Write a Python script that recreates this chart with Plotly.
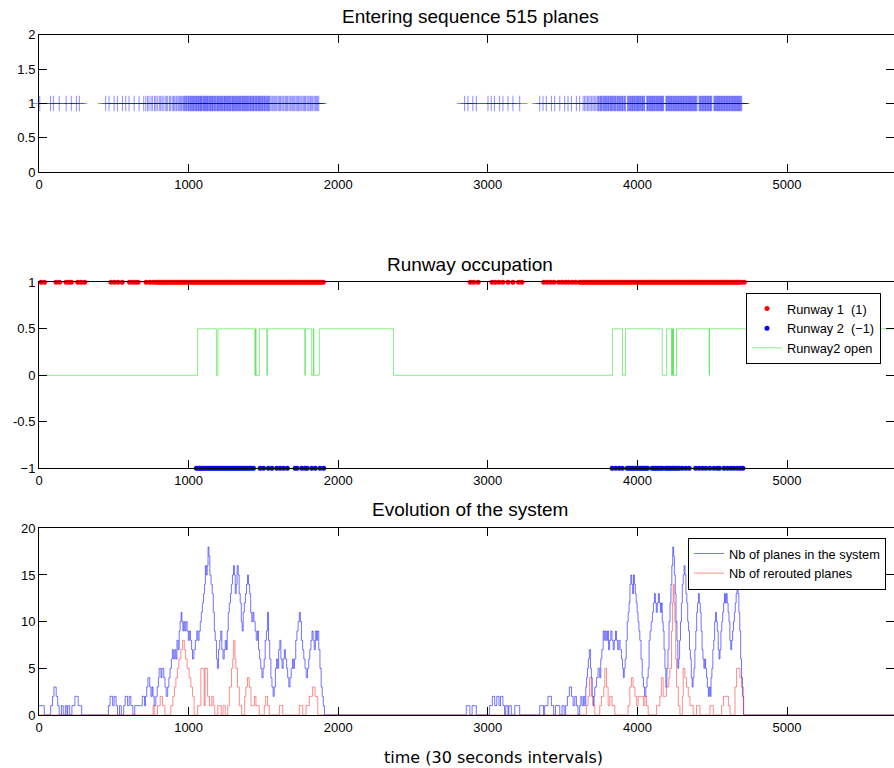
import plotly.graph_objects as go

# ---------------- data ----------------
x_ticks = [0, 1000, 2000, 3000, 4000, 5000]

# entering times of the planes (30 s intervals)
arrivals = [
    5, 77, 96, 135, 181, 216, 250, 270,
    446, 468, 502, 524, 558, 580, 602, 636, 669, 700,
    714, 726, 735, 749, 758, 772, 781, 790, 803, 811, 822, 830, 843, 851, 860, 872,
    880, 891, 899, 907, 916, 922, 931, 938, 946, 953, 961, 967,
    973, 978, 984, 988, 995, 999, 1004, 1010, 1014, 1019, 1025, 1029, 1033, 1040,
    1044, 1049, 1053, 1058, 1064, 1067, 1072, 1078, 1081, 1086, 1090, 1096, 1101,
    1105, 1109, 1114, 1118, 1123, 1127, 1131, 1137, 1141, 1146, 1150, 1155, 1160,
    1163, 1169, 1174, 1178, 1183, 1189, 1193, 1198, 1202, 1207, 1213, 1217, 1222,
    1226, 1231, 1237, 1240, 1246, 1251, 1255, 1260, 1266, 1270, 1275, 1279, 1284,
    1290, 1294, 1299, 1303, 1308, 1313, 1318, 1322, 1327, 1333, 1337, 1342, 1346,
    1351, 1357, 1361, 1366, 1371, 1375, 1380, 1386, 1390, 1395, 1399, 1405, 1410,
    1414, 1419, 1425, 1429, 1434, 1438, 1444, 1449, 1453, 1458, 1464, 1468, 1473,
    1478, 1482, 1488, 1493, 1497, 1503, 1508, 1512, 1518, 1523, 1528, 1533, 1538, 1543,
    1551, 1559, 1566, 1575, 1583, 1590, 1599, 1607, 1614, 1623, 1631, 1638, 1647,
    1655, 1662, 1671, 1679, 1686, 1695, 1703, 1710, 1719, 1727, 1734, 1743, 1751,
    1758, 1767, 1775, 1782, 1791, 1799, 1806, 1815, 1823, 1830, 1839, 1847, 1854,
    1862, 1870,
    2845, 2867, 2900, 2923, 3001, 3023, 3045, 3079, 3101, 3135, 3168, 3213,
    3347, 3369, 3391, 3425, 3447, 3481, 3514, 3536, 3559, 3592, 3614, 3637,
    3647, 3656, 3666, 3675, 3684, 3694, 3703, 3712, 3722, 3731,
    3738, 3742, 3749, 3754, 3759, 3763, 3770, 3775, 3779, 3786, 3790, 3795, 3801,
    3806, 3810, 3817, 3821, 3826, 3832, 3837, 3842, 3848, 3852, 3857, 3864, 3868,
    3873, 3880, 3884, 3889, 3895, 3900, 3904, 3911, 3915, 3921, 3934, 3939, 3944,
    3949, 3953, 3958, 3963, 3967, 3972, 3977, 3981, 3986, 3992, 3996, 4001, 4006,
    4010, 4015, 4020, 4025, 4030, 4034, 4039, 4044, 4048, 4062, 4067, 4071, 4076,
    4081, 4086, 4090, 4095, 4100, 4104, 4109, 4114, 4118, 4123, 4128, 4133, 4137,
    4142, 4147, 4152, 4156, 4161, 4166, 4170, 4175, 4190, 4195, 4199, 4204, 4209,
    4213, 4218, 4223, 4227, 4232, 4237, 4242, 4246, 4251, 4256, 4260, 4265, 4270,
    4275, 4279, 4284, 4289, 4294, 4298, 4303, 4308, 4312, 4317, 4322, 4327, 4331,
    4336, 4341, 4346, 4350, 4355, 4360, 4364, 4369, 4374, 4379, 4383, 4388, 4393,
    4398, 4412, 4417, 4421, 4426, 4431, 4436, 4440, 4445, 4450, 4455, 4459, 4464,
    4469, 4474, 4478, 4483, 4488, 4492, 4497, 4511, 4516, 4521, 4525, 4530, 4535,
    4540, 4544, 4549, 4554, 4559, 4563, 4568, 4573, 4578, 4582, 4587, 4592, 4597,
    4601, 4606, 4611, 4616, 4620, 4625, 4630, 4635, 4639, 4644, 4649, 4654, 4658,
    4663, 4668, 4673, 4677, 4682, 4687, 4692, 4697,
]

# landing times on runway 1 (plotted at +1)
runway1 = [
    14, 37, 114, 138, 181, 200, 216, 259, 280, 305, 482, 505, 528, 556,
    605, 625, 645, 662, 716, 740, 763,
    781, 793, 804, 817, 828, 840, 851, 862, 875, 886, 897, 909, 921, 932, 944, 955,
    967, 978, 990, 1001, 1013, 1024, 1036, 1047, 1058, 1070, 1082, 1093, 1105, 1116,
    1128, 1139, 1151, 1162, 1174, 1185, 1197, 1208, 1220, 1231, 1243, 1254, 1266,
    1277, 1289, 1300, 1312, 1323, 1335, 1346, 1358, 1369, 1381, 1392, 1404, 1415,
    1427, 1438, 1450, 1461, 1473, 1484, 1496, 1507, 1519, 1530, 1542, 1553, 1565,
    1576, 1588, 1599, 1611, 1622, 1634, 1645, 1657, 1668, 1680, 1691, 1703, 1714,
    1726, 1737, 1749, 1760, 1772, 1783, 1795, 1806, 1818, 1829, 1841, 1852, 1864,
    1875, 1887, 1900,
    2883, 2905, 2935, 3028, 3050, 3074, 3100, 3135, 3168, 3205, 3228,
    3374, 3397, 3420, 3442, 3474, 3497, 3520, 3541, 3565, 3587,
    3614, 3626, 3637, 3649, 3660, 3672, 3683, 3695, 3706, 3718, 3729, 3741, 3752,
    3764, 3775, 3787, 3798, 3810, 3821, 3833, 3844, 3856, 3867, 3879, 3890, 3902,
    3913, 3925, 3936, 3948, 3959, 3971, 3982, 3994, 4005, 4017, 4028, 4040, 4051,
    4063, 4074, 4086, 4097, 4109, 4120, 4132, 4143, 4155, 4166, 4178, 4189, 4201,
    4212, 4224, 4235, 4247, 4258, 4270, 4281, 4293, 4304, 4316, 4327, 4339, 4350,
    4362, 4373, 4385, 4396, 4408, 4419, 4431, 4442, 4454, 4465, 4477, 4488, 4500,
    4511, 4523, 4534, 4546, 4557, 4569, 4580, 4592, 4603, 4615, 4626, 4638, 4649,
    4661, 4672, 4684, 4695, 4714,
]

# landing times on runway 2 (plotted at -1)
runway2 = [
    1052, 1064, 1075, 1087, 1098, 1110, 1121, 1133, 1144, 1156, 1167, 1179, 1190,
    1202, 1213, 1225, 1236, 1248, 1259, 1271, 1282, 1294, 1305, 1317, 1328, 1340,
    1351, 1363, 1374, 1386, 1397, 1409, 1420, 1434,
    1478, 1501, 1533, 1557, 1589, 1612, 1635, 1660, 1712, 1725, 1756, 1778, 1792,
    1823, 1847, 1879, 1903,
    3831, 3855, 3878, 3899, 3931, 3943, 3954, 3966, 3977, 3989, 4000, 4012, 4023,
    4035, 4046, 4058, 4068, 4098, 4110, 4121, 4133, 4144, 4156, 4168, 4188, 4199,
    4211, 4222, 4234, 4245, 4257, 4268, 4280, 4300, 4323, 4346, 4389, 4412, 4435,
    4457, 4484, 4512, 4535, 4548, 4579, 4602, 4625, 4646, 4668, 4688, 4705,
]

# runway 2 open indicator: (time, level) change points
runway2_open = [
    (0, 0), (1060, 0.5), (1186, 0), (1196, 0.5), (1443, 0), (1447, 0.5), (1451, 0),
    (1473, 0.5), (1523, 0), (1526, 0.5), (1777, 0), (1780, 0.5), (1823, 0),
    (1834, 0.5), (1838, 0), (1874, 0.5), (2369, 0), (3833, 0.5), (3900, 0),
    (3920, 0.5), (4166, 0), (4195, 0.5), (4228, 0), (4232, 0.5), (4236, 0),
    (4239, 0.5), (4241, 0), (4261, 0.5), (4479, 0), (4482, 0.5), (5760, 0.5),
]

# number of planes in the system: (time, count) change points
system_steps = [
    (0, 1), (35, 0), (78, 1), (90, 2), (100, 3), (115, 2), (125, 1), (135, 0),
    (150, 1), (162, 0), (176, 1), (186, 0), (192, 1), (205, 0), (220, 1), (240, 2),
    (262, 1), (285, 0), (464, 1), (475, 2), (492, 1), (502, 2), (515, 1), (525, 0),
    (538, 1), (550, 0), (566, 1), (576, 2), (592, 1), (603, 2), (614, 1), (628, 0),
    (640, 1), (690, 2), (705, 1), (712, 2), (720, 3), (728, 4), (740, 3), (748, 2),
    (756, 3), (762, 2), (770, 1), (781, 2), (790, 3), (798, 4), (803, 5), (815, 4),
    (822, 5), (834, 4), (842, 3), (850, 2), (860, 3), (868, 4), (876, 5), (885, 6),
    (892, 7), (900, 6), (908, 7), (915, 6), (922, 8), (930, 7), (937, 9), (943, 10),
    (950, 11), (955, 10), (962, 9), (968, 10), (975, 9), (982, 10), (990, 9),
    (998, 8), (1005, 9), (1012, 8), (1020, 7), (1026, 6), (1035, 7), (1045, 8),
    (1055, 9), (1062, 8), (1070, 9), (1078, 10), (1085, 11), (1092, 12), (1100, 13),
    (1106, 14), (1112, 16), (1118, 15), (1124, 16), (1130, 18), (1136, 17),
    (1142, 15), (1150, 14), (1158, 13), (1165, 11), (1172, 9), (1178, 8), (1186, 6),
    (1192, 5), (1200, 7), (1208, 8), (1215, 9), (1222, 7), (1230, 6), (1238, 7),
    (1245, 8), (1252, 7), (1258, 9), (1265, 11), (1272, 12), (1280, 13), (1286, 14),
    (1293, 15), (1300, 16), (1306, 15), (1312, 13), (1318, 14), (1324, 16),
    (1332, 15), (1338, 13), (1345, 12), (1352, 10), (1358, 9), (1365, 11),
    (1372, 12), (1380, 13), (1387, 14), (1394, 15), (1400, 14), (1408, 13),
    (1415, 11), (1422, 10), (1430, 11), (1437, 10), (1445, 9), (1452, 8), (1460, 9),
    (1467, 7), (1475, 6), (1482, 5), (1490, 4), (1498, 5), (1505, 6), (1512, 8),
    (1520, 9), (1527, 11), (1534, 8), (1542, 6), (1550, 4), (1557, 3), (1565, 2),
    (1572, 3), (1580, 5), (1588, 6), (1595, 5), (1602, 7), (1610, 8), (1617, 6),
    (1625, 5), (1632, 6), (1640, 7), (1647, 6), (1655, 5), (1662, 4), (1670, 3),
    (1678, 4), (1686, 5), (1694, 6), (1700, 5), (1708, 6), (1716, 8), (1724, 9),
    (1732, 10), (1740, 11), (1747, 10), (1754, 8), (1762, 7), (1770, 6), (1778, 5),
    (1786, 4), (1795, 5), (1803, 6), (1810, 7), (1818, 8), (1825, 9), (1832, 8),
    (1840, 7), (1847, 9), (1855, 8), (1862, 9), (1870, 7), (1878, 5), (1886, 3),
    (1893, 2), (1900, 1), (1908, 0),
    (2856, 1), (2880, 0), (2895, 1), (2923, 0), (3012, 1), (3030, 2), (3046, 1),
    (3060, 2), (3075, 1), (3085, 2), (3101, 1), (3112, 0), (3120, 1), (3135, 0),
    (3140, 1), (3157, 0), (3180, 1), (3213, 0), (3347, 1), (3372, 0), (3380, 1),
    (3402, 2), (3425, 1), (3440, 0), (3452, 1), (3481, 0), (3496, 1), (3510, 0),
    (3520, 1), (3532, 2), (3545, 3), (3559, 2), (3570, 1), (3581, 2), (3592, 1),
    (3603, 0), (3614, 1), (3622, 2), (3630, 1), (3640, 2), (3648, 1), (3655, 3),
    (3660, 4), (3666, 5), (3672, 6), (3678, 7), (3686, 5), (3692, 4), (3698, 2),
    (3704, 1), (3710, 2), (3715, 3), (3726, 4), (3737, 5), (3748, 4), (3755, 6),
    (3762, 7), (3771, 9), (3778, 8), (3785, 9), (3792, 8), (3800, 9), (3807, 7),
    (3814, 8), (3822, 9), (3830, 8), (3838, 7), (3845, 8), (3853, 9), (3860, 8),
    (3868, 7), (3876, 8), (3884, 7), (3893, 6), (3900, 5), (3906, 4), (3912, 5),
    (3918, 6), (3925, 8), (3932, 10), (3938, 11), (3944, 12), (3950, 14), (3956, 15),
    (3962, 14), (3968, 13), (3974, 15), (3980, 14), (3986, 13), (3992, 12),
    (3998, 11), (4004, 10), (4010, 9), (4016, 8), (4024, 6), (4032, 4), (4040, 3),
    (4048, 2), (4056, 3), (4064, 4), (4072, 5), (4078, 8), (4085, 9), (4092, 10),
    (4100, 11), (4107, 12), (4114, 13), (4120, 12), (4126, 11), (4133, 12),
    (4140, 13), (4147, 12), (4154, 11), (4160, 12), (4166, 10), (4172, 9),
    (4178, 7), (4184, 5), (4190, 3), (4197, 5), (4204, 7), (4211, 10), (4218, 12),
    (4224, 14), (4230, 16), (4236, 18), (4242, 17), (4247, 15), (4253, 13),
    (4258, 10), (4264, 8), (4270, 5), (4276, 6), (4282, 8), (4288, 10), (4294, 12),
    (4300, 14), (4306, 15), (4312, 16), (4318, 15), (4324, 13), (4330, 12),
    (4336, 10), (4342, 9), (4348, 7), (4354, 6), (4360, 4), (4366, 3), (4372, 4),
    (4378, 5), (4384, 7), (4390, 9), (4396, 11), (4402, 12), (4408, 13), (4414, 12),
    (4420, 11), (4426, 9), (4432, 7), (4438, 6), (4444, 5), (4450, 6), (4456, 5),
    (4462, 4), (4468, 3), (4474, 2), (4480, 3), (4486, 2), (4492, 4), (4498, 5),
    (4504, 7), (4510, 8), (4516, 10), (4522, 11), (4528, 10), (4534, 9), (4540, 7),
    (4546, 6), (4552, 7), (4558, 9), (4564, 10), (4570, 11), (4576, 12), (4582, 13),
    (4588, 12), (4594, 13), (4600, 12), (4606, 11), (4612, 10), (4618, 8),
    (4624, 7), (4630, 8), (4636, 9), (4642, 10), (4648, 11), (4654, 12), (4660, 13),
    (4666, 14), (4672, 13), (4678, 11), (4684, 9), (4690, 6), (4696, 4), (4702, 2),
    (4710, 0), (5760, 0),
]

# number of rerouted planes: (time, count) change points
rerouted_steps = [
    (0, 0), (763, 1), (770, 0), (792, 1), (810, 2), (825, 1), (841, 0), (881, 1),
    (895, 2), (905, 3), (915, 4), (925, 5), (935, 6), (948, 7), (960, 8), (971, 7),
    (980, 6), (990, 5), (1004, 4), (1015, 3), (1026, 2), (1037, 0), (1060, 1),
    (1082, 5), (1104, 1), (1110, 5), (1127, 2), (1140, 1), (1155, 2), (1165, 1),
    (1175, 0), (1195, 1), (1218, 0), (1230, 1), (1245, 0), (1262, 1), (1272, 3),
    (1287, 5), (1295, 6), (1301, 8), (1310, 6), (1316, 5), (1327, 3), (1339, 1),
    (1355, 0), (1375, 2), (1383, 3), (1394, 4), (1405, 3), (1417, 1), (1440, 2),
    (1450, 1), (1472, 0), (1506, 1), (1515, 2), (1528, 1), (1539, 0), (1607, 1),
    (1629, 0), (1740, 1), (1763, 0), (1785, 1), (1807, 2), (1829, 3), (1845, 2),
    (1863, 0),
    (3659, 1), (3670, 2), (3680, 4), (3692, 2), (3704, 1), (3715, 0), (3748, 1),
    (3760, 2), (3775, 3), (3782, 5), (3793, 3), (3804, 1), (3815, 2), (3830, 1),
    (3849, 0), (3938, 1), (3949, 3), (3960, 4), (3971, 3), (3983, 2), (3995, 1),
    (4005, 2), (4040, 1), (4050, 2), (4061, 1), (4072, 0), (4128, 1), (4150, 2),
    (4160, 4), (4172, 2), (4185, 2), (4194, 3), (4210, 4), (4217, 5), (4228, 9),
    (4234, 12), (4239, 14), (4245, 12), (4250, 10), (4256, 6), (4262, 3),
    (4273, 1), (4284, 0), (4300, 2), (4306, 5), (4317, 4), (4328, 3), (4340, 2),
    (4351, 1), (4373, 0), (4395, 1), (4418, 0), (4485, 1), (4507, 0), (4563, 1),
    (4575, 2), (4608, 1), (4619, 0), (4652, 3), (4663, 5), (4685, 4), (4696, 3),
    (4708, 0), (5760, 0),
]

# ---------------- figure ----------------
FONT = "Liberation Sans, Arial, sans-serif"
XMAX = 5715
fig = go.Figure()

# subplot 1: entering sequence
fig.add_trace(go.Scatter(
    x=arrivals, y=[1] * len(arrivals), mode="markers", xaxis="x", yaxis="y",
    marker=dict(symbol="cross-thin", size=11,
                line=dict(color="rgba(0,0,255,0.45)", width=1)),
    showlegend=False, cliponaxis=False))

# subplot 2: runway occupation
fig.add_trace(go.Scatter(
    x=runway1, y=[1] * len(runway1), mode="markers", xaxis="x2", yaxis="y2",
    marker=dict(symbol="circle", size=5, color="#ff0000"),
    name="Runway 1\u00a0 (1)", legend="legend", cliponaxis=False))
fig.add_trace(go.Scatter(
    x=runway2, y=[-1] * len(runway2), mode="markers", xaxis="x2", yaxis="y2",
    marker=dict(symbol="circle", size=5, color="#0000ff"),
    name="Runway 2\u00a0 (\u22121)", legend="legend", cliponaxis=False))
fig.add_trace(go.Scatter(
    x=[p[0] for p in runway2_open], y=[p[1] for p in runway2_open],
    mode="lines", line=dict(color="rgba(40,220,40,0.55)", width=1, shape="hv"),
    xaxis="x2", yaxis="y2", name="Runway2 open", legend="legend"))

# subplot 3: evolution of the system
fig.add_trace(go.Scatter(
    x=[p[0] for p in system_steps], y=[p[1] for p in system_steps],
    mode="lines", line=dict(color="rgba(0,0,255,0.55)", width=1, shape="hv"),
    xaxis="x3", yaxis="y3", name="Nb of planes in the system", legend="legend2"))
fig.add_trace(go.Scatter(
    x=[p[0] for p in rerouted_steps], y=[p[1] for p in rerouted_steps],
    mode="lines", line=dict(color="rgba(255,0,0,0.45)", width=1, shape="hv"),
    xaxis="x3", yaxis="y3", name="Nb of rerouted planes", legend="legend2"))

# invisible traces for right-hand tick axes
for ya, xa in [("y4", "x"), ("y5", "x2"), ("y6", "x3")]:
    fig.add_trace(go.Scatter(x=[None], y=[None], xaxis=xa, yaxis=ya,
                             showlegend=False, hoverinfo="skip"))

def xax(anchor):
    return dict(anchor=anchor, domain=[0, 1], range=[0, XMAX], tickvals=x_ticks,
                ticktext=[str(v) for v in x_ticks], ticks="inside", ticklen=8,
                tickcolor="black", showline=True, linecolor="black", linewidth=1,
                mirror="ticks", showgrid=False, zeroline=False, automargin=False,
                tickfont=dict(family=FONT, size=13, color="black"))

def yax(anchor, dom, rng, vals, labels):
    return dict(anchor=anchor, domain=dom, range=rng, tickvals=vals, ticktext=labels,
                ticks="inside", ticklen=8, tickcolor="black", showline=True,
                linecolor="black", linewidth=1, showgrid=False, zeroline=False,
                automargin=False,
                tickfont=dict(family=FONT, size=13, color="black"))

def yright(anchor, over, rng, vals):
    return dict(anchor=anchor, overlaying=over, side="right", range=rng, tickvals=vals,
                ticks="inside", ticklen=8, tickcolor="black", showline=False,
                showticklabels=False, showgrid=False, zeroline=False, automargin=False)

y1_vals = [0, 0.5, 1, 1.5, 2]
y2_vals = [-1, -0.5, 0, 0.5, 1]
y3_vals = [0, 5, 10, 15, 20]
d1 = [1 - 172.3 / 768, 1 - 34.7 / 768]
d2 = [1 - 468.3 / 768, 1 - 282.3 / 768]
d3 = [1 - 715 / 768, 1 - 528.3 / 768]

fig.update_layout(
    width=894, height=768,
    margin=dict(l=39, r=0, t=0, b=0, pad=0, autoexpand=False),
    paper_bgcolor="white", plot_bgcolor="white",
    font=dict(family=FONT, color="black"),
    xaxis=xax("y"), xaxis2=xax("y2"), xaxis3=xax("y3"),
    yaxis=yax("x", d1, [0, 2], y1_vals, ["0", "0.5", "1", "1.5", "2"]),
    yaxis2=yax("x2", d2, [-1, 1], y2_vals, ["\u22121", "-0.5", "0", "0.5", "1"]),
    yaxis3=yax("x3", d3, [0, 20], y3_vals, ["0", "5", "10", "15", "20"]),
    yaxis4=yright("x", "y", [0, 2], y1_vals),
    yaxis5=yright("x2", "y2", [-1, 1], y2_vals),
    yaxis6=yright("x3", "y3", [0, 20], y3_vals),
    legend=dict(x=(746 - 39) / 855, y=1 - 292.7 / 768, xanchor="left", yanchor="top",
                bgcolor="white", bordercolor="black", borderwidth=1,
                font=dict(family=FONT, size=12.8, color="black"),
                tracegroupgap=0, itemwidth=30),
    legend2=dict(x=(688 - 39) / 855, y=1 - 537.7 / 768, xanchor="left", yanchor="top",
                 bgcolor="white", bordercolor="black", borderwidth=1,
                 font=dict(family=FONT, size=12.8, color="black"),
                 tracegroupgap=0, itemwidth=30),
    hovermode=False,
    annotations=[
        dict(text="Entering sequence 515 planes", x=(470 - 39) / 855, y=1 - 16 / 768,
             xref="paper", yref="paper", showarrow=False, xanchor="center",
             yanchor="middle", font=dict(family=FONT, size=19, color="black")),
        dict(text="Runway occupation", x=(470 - 39) / 855, y=1 - 264 / 768,
             xref="paper", yref="paper", showarrow=False, xanchor="center",
             yanchor="middle", font=dict(family=FONT, size=19, color="black")),
        dict(text="Evolution of the system", x=(470 - 39) / 855, y=1 - 509 / 768,
             xref="paper", yref="paper", showarrow=False, xanchor="center",
             yanchor="middle", font=dict(family=FONT, size=19, color="black")),
        dict(text="time (30 seconds intervals)", x=(493.5 - 39) / 855, y=1 - 757 / 768,
             xref="paper", yref="paper", showarrow=False, xanchor="center",
             yanchor="middle", font=dict(family="DejaVu Sans", size=16, color="black")),
    ],
)

fig.write_html("out.html")
